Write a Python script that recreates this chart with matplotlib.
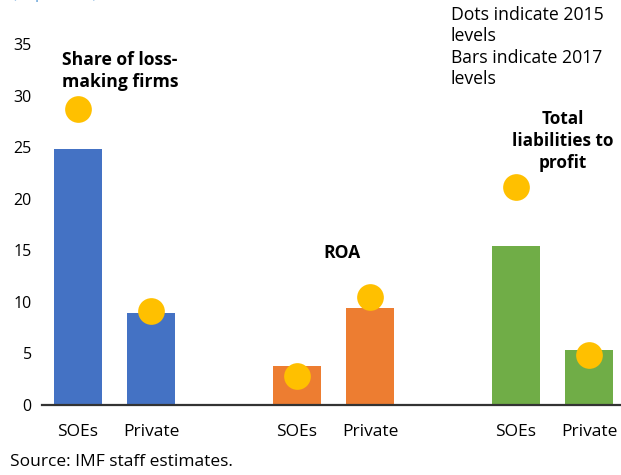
import matplotlib
matplotlib.use("Agg")
import matplotlib.pyplot as plt

categories = ["SOEs", "Private", "", "SOEs", "Private", "", "SOEs", "Private"]
positions = [0, 1, 3, 4, 6, 7]
bar_labels = ["SOEs", "Private", "SOEs", "Private", "SOEs", "Private"]
bars_2017 = [24.8, 8.9, 3.8, 9.4, 15.4, 5.35]
dots_2015 = [28.7, 9.1, 2.85, 10.5, 21.1, 4.85]
bar_colors = ["#4472C4", "#4472C4", "#ED7D31", "#ED7D31", "#70AD47", "#70AD47"]
yticks = [0, 5, 10, 15, 20, 25, 30, 35]

plt.rcParams['font.family'] = ['Open Sans', 'DejaVu Sans']

fig = plt.figure(figsize=(6.21, 4.75), dpi=100)
ax = fig.add_axes([41.5 / 621, 70 / 475, 584 / 621, 361 / 475])

ax.bar(positions, bars_2017, width=0.667, color=bar_colors, zorder=2)
ax.scatter(positions, dots_2015, s=370, color="#FFC000", zorder=3, linewidths=0)

ax.set_xlim(-0.5, 7.5)
ax.set_ylim(0, 35)
ax.set_yticks(yticks)
ax.set_xticks(positions)
ax.set_xticklabels(bar_labels)
ax.tick_params(axis='both', length=0, colors="#000000")
ax.tick_params(axis='y', pad=7, labelsize=11.5)
ax.tick_params(axis='x', pad=13.5, labelsize=12.5)
for s in ["top", "right", "left"]:
    ax.spines[s].set_visible(False)
ax.spines["bottom"].set_color("#333333")
ax.spines["bottom"].set_linewidth(1.6)
ax.spines["bottom"].set_zorder(4)

fig.text(120 / 621, 1 - 71 / 475, "Share of loss-\nmaking firms", ha="center", va="center",
         fontsize=12.6, fontweight="bold", linespacing=1.25)
fig.text(342 / 621, 1 - 253 / 475, "ROA", ha="center", va="center",
         fontsize=12.6, fontweight="bold")
fig.text(563 / 621, 1 - 141 / 475, "Total\nliabilities to\nprofit", ha="center", va="center",
         fontsize=12.3, fontweight="bold", linespacing=1.3)
fig.text(451 / 621, 1 - 47 / 475, "Dots indicate 2015\nlevels\nBars indicate 2017\nlevels",
         ha="left", va="center", fontsize=12.7, linespacing=1.22)
fig.text(10 / 621, 1 - 462 / 475, "Source: IMF staff estimates.", ha="left", va="center",
         fontsize=12.5)
fig.text(12 / 621, 1 + 6 / 475, "(In percent)", ha="left", va="center", fontsize=11.5,
         color="#5B9BD5")

fig.savefig("out.png", dpi=100)
